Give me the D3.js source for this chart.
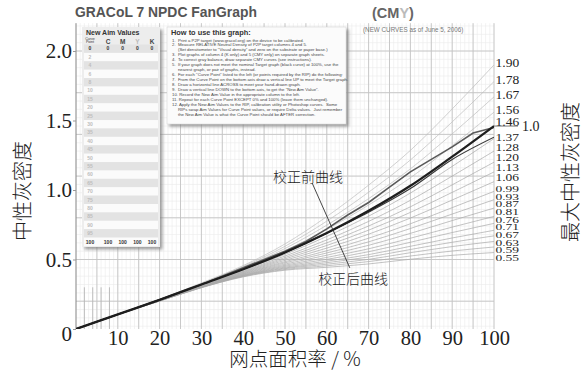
<!DOCTYPE html>
<html><head><meta charset="utf-8">
<script src="https://cdn.jsdelivr.net/npm/d3@7"></script>
<style>
html,body{margin:0;padding:0;background:#fff;}
svg{display:block;}
</style></head>
<body>
<svg id="c" width="587" height="379"></svg>
<script>
// ---------- data ----------
const xTicks = [10,20,30,40,50,60,70,80,90,100];
const yTicks = [0,0.5,1.0,1.5,2.0];
const fanX = [0,10,20,30,40,50,60,70,80,90,100];
const fanMax = [1.90,1.78,1.67,1.56,1.46,1.37,1.28,1.20,1.13,1.06,0.99,0.93,0.87,0.81,0.76,0.71,0.67,0.63,0.59,0.55];
const fanND = [
 [0,.105,.214,.331,.456,.612,.809,1.035,1.285,1.583,1.90],
 [0,.105,.213,.328,.449,.595,.776,.984,1.216,1.490,1.78],
 [0,.105,.212,.325,.443,.579,.747,.938,1.152,1.404,1.67],
 [0,.105,.211,.323,.436,.564,.717,.892,1.088,1.318,1.56],
 [0,.105,.210,.320,.430,.550,.690,.850,1.030,1.240,1.46],
 [0,.105,.209,.318,.425,.537,.666,.812,.978,1.170,1.37],
 [0,.105,.208,.316,.419,.525,.641,.774,.926,1.100,1.28],
 [0,.105,.207,.314,.414,.514,.620,.741,.879,1.037,1.20],
 [0,.105,.207,.312,.410,.504,.601,.711,.839,.983,1.13],
 [0,.105,.206,.310,.406,.494,.582,.682,.798,.928,1.06],
 [0,.105,.205,.308,.402,.484,.563,.653,.757,.873,.99],
 [0,.105,.205,.307,.398,.476,.547,.627,.723,.827,.93],
 [0,.105,.204,.305,.395,.467,.531,.602,.688,.780,.87],
 [0,.105,.204,.304,.391,.459,.515,.577,.653,.733,.81],
 [0,.105,.203,.303,.388,.452,.501,.556,.624,.694,.76],
 [0,.105,.203,.301,.385,.445,.488,.535,.595,.655,.71],
 [0,.105,.202,.300,.383,.439,.477,.518,.572,.624,.67],
 [0,.105,.202,.299,.380,.434,.466,.501,.549,.593,.63],
 [0,.105,.201,.298,.378,.428,.455,.485,.525,.561,.59],
 [0,.105,.201,.297,.375,.423,.444,.468,.502,.530,.55]
];
const targetX = [0,10,20,30,40,50,60,70,80,90,100];
const targetND = [0,.105,.21,.32,.43,.55,.69,.85,1.03,1.24,1.46];
const beforeX = [0,10,20,30,40,50,55,60,65,70,75,80,85,90,95,100];
const beforeND = [0,.105,.21,.32,.44,.56,.63,.72,.82,.91,1.02,1.13,1.22,1.31,1.41,1.45];
const thirdX = [0,10,20,30,40,50,60,70,80,90,100];
const thirdND = [0,.105,.21,.32,.43,.55,.69,.84,1.01,1.22,1.38];
const aimPoints = [0,2,4,6,8,10,15,20,25,30,35,40,45,50,55,60,65,70,75,80,85,90,95,100];
const aimCols = ["C","M","Y","K"];
const howTo = [
 "1.  Print a P2P target (www.gracol.org) on the device to be calibrated.",
 "2.  Measure RELATIVE Neutral Density of P2P target columns 4 and 5.",
 "     (Set densitometer to \"Visual density\" and zero on the substrate or paper base.)",
 "3.  Plot graphs of column 4 (K only) and 5 (CMY only) on separate graph sheets.",
 "4.  To correct gray balance, draw separate CMY curves (see instructions).",
 "5.  If your graph does not meet the nominal Target graph (black curve) at 100%, use the",
 "     nearest graph, or pair of graphs, instead.",
 "6.  For each \"Curve Point\" listed to the left (or points required by the RIP) do the following:",
 "7.  From the Curve Point on the bottom axis draw a vertical line UP to meet the Target graph.",
 "8.  Draw a horizontal line ACROSS to meet your hand-drawn graph.",
 "9.  Draw a vertical line DOWN to the bottom axis, to get the \"New Aim Value\".",
 "10. Record the New Aim Value in the appropriate column to the left.",
 "11. Repeat for each Curve Point EXCEPT 0% and 100% (leave them unchanged).",
 "12. Apply the New Aim Values to the RIP, calibration utility or Photoshop curves.  Some",
 "     RIPs swap Aim Values for Curve Point values, or require Delta values.  Just remember",
 "     the New Aim Value is what the Curve Point should be AFTER correction."
];
const noteBefore = {x:55.5, y:1.06, text:"校正前曲线"};
const noteAfter = {x:66.3, y:0.325, text:"校正后曲线"};
const pointer = [[56.5,1.05],[65.5,0.44]];
const targetMarkLabel = "1.0";
const lowMarks = [2,4,6,8];

// ---------- layout ----------
const svg = d3.select("#c");
const x = d3.scaleLinear().domain([0,100]).range([76,494]);
const y = d3.scaleLinear().domain([0,2.2]).range([329,23.2]);
const serif = "'Liberation Serif','Times New Roman',serif";
const cjk = "'Noto Sans CJK SC','Noto Sans CJK JP',sans-serif";
const sans = "'Liberation Sans',Arial,sans-serif";

const defs = svg.append("defs");
const f = defs.append("filter").attr("id","sh").attr("x","-10%").attr("y","-10%").attr("width","130%").attr("height","130%");
f.append("feDropShadow").attr("dx",2.5).attr("dy",2.5).attr("stdDeviation",1.6).attr("flood-color","#777").attr("flood-opacity",0.7);
defs.append("clipPath").attr("id","plot").append("rect")
  .attr("x",x(0)).attr("y",y(2.2)).attr("width",x(100)-x(0)).attr("height",y(0)-y(2.2));

// grid
const g = svg.append("g");
g.append("g").selectAll("line").data(d3.range(0,101,1)).join("line")
  .attr("x1",d=>x(d)).attr("x2",d=>x(d)).attr("y1",y(0)).attr("y2",y(2.2))
  .attr("stroke","#ebebeb").attr("stroke-width",0.6);
g.append("g").selectAll("line").data(d3.range(0.02,2.21,0.06)).join("line")
  .attr("y1",d=>y(d)).attr("y2",d=>y(d)).attr("x1",x(0)).attr("x2",x(100))
  .attr("stroke","#ebebeb").attr("stroke-width",0.6);
g.append("g").selectAll("line").data(d3.range(5,101,5)).join("line")
  .attr("x1",d=>x(d)).attr("x2",d=>x(d)).attr("y1",y(0)).attr("y2",y(2.2))
  .attr("stroke","#c4c4c4").attr("stroke-width",0.9);
g.append("g").selectAll("line").data(d3.range(0.2,2.21,0.3)).join("line")
  .attr("y1",d=>y(d)).attr("y2",d=>y(d)).attr("x1",x(0)).attr("x2",x(100))
  .attr("stroke","#c4c4c4").attr("stroke-width",0.9);
g.append("g").selectAll("line").data(lowMarks).join("line")
  .attr("x1",d=>x(d)).attr("x2",d=>x(d)).attr("y1",y(0)).attr("y2",y(0.3))
  .attr("stroke","#b5b5b5").attr("stroke-width",0.9);
g.append("line").attr("x1",x(0)).attr("x2",x(0)).attr("y1",y(0)).attr("y2",y(2.2)).attr("stroke","#8a8a8a").attr("stroke-width",1);

// fan curves
const line = d3.line().x(d=>x(d[0])).y(d=>y(d[1])).curve(d3.curveMonotoneX);
const pg = svg.append("g").attr("clip-path","url(#plot)");
fanND.forEach((vals,i)=>{
  pg.append("path").attr("d", line(fanX.map((xx,j)=>[xx,vals[j]])))
    .attr("fill","none").attr("stroke", fanMax[i]>1.46 ? "#bdbdbd" : "#a9a9a9").attr("stroke-width",0.7);
});
pg.append("path").attr("d", line(thirdX.map((xx,j)=>[xx,thirdND[j]])))
  .attr("fill","none").attr("stroke","#3a3a3a").attr("stroke-width",1.2);
pg.append("path").attr("d", d3.line().x(d=>x(d[0])).y(d=>y(d[1]))(beforeX.map((xx,j)=>[xx,beforeND[j]])))
  .attr("fill","none").attr("stroke","#5a5a5a").attr("stroke-width",1.6);
pg.append("path").attr("d", line(targetX.map((xx,j)=>[xx,targetND[j]])))
  .attr("fill","none").attr("stroke","#1e1e1e").attr("stroke-width",2.3);

// fan labels (spread like the reference)
const midIdx = d3.scaleLinear().domain([5,9]).range([y(1.37)-1.5, y(1.06)-4.5]);
const lowIdx = d3.scaleLinear().domain([10,19]).range([y(0.99)-2.5, y(0.55)+5.5]);
const fl = svg.append("g").attr("font-family",serif).attr("fill","#222");
fanMax.forEach((d,i)=>{
  let yy, sy;
  if (i<=4) { yy = y(d) - (i===4 ? 5 : 2.5); sy = 1; }
  else if (i<=9) { yy = midIdx(i); sy = 0.78; }
  else { yy = lowIdx(i); sy = 0.66; }
  fl.append("text").text(d.toFixed(2)).attr("font-size", 13.5)
    .attr("transform",`translate(${x(100)+1.5},${yy}) scale(1,${sy})`).attr("dy","0.35em");
});
svg.append("line").attr("x1",x(100)).attr("x2",x(100)+24).attr("y1",y(1.46)).attr("y2",y(1.46)).attr("stroke","#555").attr("stroke-width",0.8);
svg.append("text").text(targetMarkLabel).attr("x",x(100)+28).attr("y",y(1.46)).attr("dy","0.35em")
  .attr("font-family",serif).attr("font-size",14).attr("fill","#222");

// axes
const ya = svg.append("g").attr("transform",`translate(${x(0)},0)`)
  .call(d3.axisLeft(y).tickValues(yTicks).tickSize(3).tickPadding(1).tickFormat(d=>d===0?"0":d3.format(".1f")(d)));
ya.select(".domain").remove();
ya.selectAll("line").attr("stroke","#999");
ya.selectAll("text").attr("font-family",serif).attr("font-size",21).attr("fill","#222");
ya.selectAll(".tick").filter(d=>d===0).select("text").attr("dy","0.55em");
const xa = svg.append("g").attr("transform",`translate(0,${y(0)})`)
  .call(d3.axisBottom(x).tickValues(xTicks).tickSize(0).tickPadding(1.5));
xa.select(".domain").remove();
xa.selectAll("text").attr("font-family",serif).attr("font-size",20.5).attr("fill","#222");

// axis titles
svg.append("text").text("网点面积率 / %").attr("x",295).attr("y",365.5).attr("text-anchor","middle")
  .attr("font-family",cjk).attr("font-weight",300).attr("font-size",19.5).attr("fill","#222");
svg.append("text").text("中性灰密度").attr("transform","translate(30,191) rotate(-90)").attr("text-anchor","middle")
  .attr("font-family",cjk).attr("font-weight",300).attr("font-size",20).attr("fill","#222");
svg.append("text").text("最大中性灰密度").attr("transform","translate(578,172) rotate(-90)").attr("text-anchor","middle")
  .attr("font-family",cjk).attr("font-weight",300).attr("font-size",20).attr("fill","#222");

// annotations
svg.append("line").attr("x1",x(pointer[0][0])).attr("y1",y(pointer[0][1])).attr("x2",x(pointer[1][0])).attr("y2",y(pointer[1][1]))
  .attr("stroke","#333").attr("stroke-width",0.9);
[noteBefore,noteAfter].forEach(n=>{
  svg.append("text").text(n.text).attr("x",x(n.x)).attr("y",y(n.y)).attr("text-anchor","middle")
    .attr("font-family",cjk).attr("font-weight",300).attr("font-size",14).attr("fill","#222");
});

// header texts
svg.append("text").text("GRACoL 7 NPDC FanGraph").attr("x",75).attr("y",17)
  .attr("font-family",sans).attr("font-weight","bold").attr("font-size",13.9).attr("fill","#555");
const cmy = svg.append("text").attr("x",372).attr("y",18).attr("font-family",sans).attr("font-weight","bold").attr("font-size",14.5);
cmy.append("tspan").text("(CM").attr("fill","#666");
cmy.append("tspan").text("Y").attr("fill","#bbb");
cmy.append("tspan").text(")").attr("fill","#666");
svg.append("text").text("(NEW CURVES as of June 5, 2006)").attr("x",363).attr("y",32)
  .attr("font-family",sans).attr("font-size",6.3).attr("fill","#777");

// how-to box
const hb = svg.append("g");
hb.append("rect").attr("x",167).attr("y",27).attr("width",179).attr("height",97).attr("fill","#fbfbfb").attr("stroke","#d0d0d0").attr("stroke-width",0.5).attr("filter","url(#sh)");
hb.append("text").text("How to use this graph:").attr("x",171).attr("y",35).attr("font-family",sans).attr("font-weight","bold").attr("font-size",7.4).attr("fill","#333");
hb.selectAll("text.l").data(howTo).join("text").attr("class","l").text(d=>d)
  .attr("x",172).attr("y",(d,i)=>41.5+i*4.95).attr("font-family",sans).attr("font-size",4.3).attr("fill","#444").style("white-space","pre");

// aim table
const tb = svg.append("g");
const rowY = d3.scaleBand().domain(aimPoints).range([44.5, 246]);
tb.append("rect").attr("x",82).attr("y",27).attr("width",78).attr("height",220).attr("fill","#ededed").attr("filter","url(#sh)");
tb.selectAll("rect.r").data(aimPoints).join("rect").attr("class","r")
  .attr("x",84).attr("width",74).attr("y",d=>rowY(d)).attr("height",rowY.bandwidth())
  .attr("fill",(d,i)=>i%2? "#fbfbfb" : "#e3e3e3");
tb.append("text").text("New Aim Values").attr("x",86).attr("y",35).attr("font-family",sans).attr("font-weight","bold").attr("font-size",7).attr("fill","#333");
tb.append("text").text("Curve").attr("x",90).attr("y",39.5).attr("text-anchor","middle").attr("font-family",sans).attr("font-size",3.6).attr("fill","#333");
tb.append("text").text("Point").attr("x",90).attr("y",43).attr("text-anchor","middle").attr("font-family",sans).attr("font-size",3.6).attr("fill","#333");
const colX = d3.scalePoint().domain(aimCols).range([108,152]);
tb.selectAll("text.h").data(aimCols).join("text").attr("class","h").text(d=>d)
  .attr("x",d=>colX(d)).attr("y",43.5).attr("text-anchor","middle").attr("font-family",sans).attr("font-weight","bold").attr("font-size",6.5)
  .attr("fill",d=>d==="Y"?"#bbb":"#444");
tb.selectAll("text.p").data(aimPoints).join("text").attr("class","p").text(d=>d)
  .attr("x",90).attr("y",d=>rowY(d)+rowY.bandwidth()/2).attr("dy","0.35em").attr("text-anchor","middle")
  .attr("font-family",sans).attr("font-weight","bold").attr("font-size",5)
  .attr("fill",d=>(d===0||d===100)?"#333":"#bdbdbd");
aimCols.forEach(c=>{
  tb.selectAll(null).data([0,100]).join("text").text(d=>d)
    .attr("x",colX(c)).attr("y",d=>rowY(d)+rowY.bandwidth()/2).attr("dy","0.35em").attr("text-anchor","middle")
    .attr("font-family",sans).attr("font-weight","bold").attr("font-size",5).attr("fill","#333");
});
</script>
</body></html>
